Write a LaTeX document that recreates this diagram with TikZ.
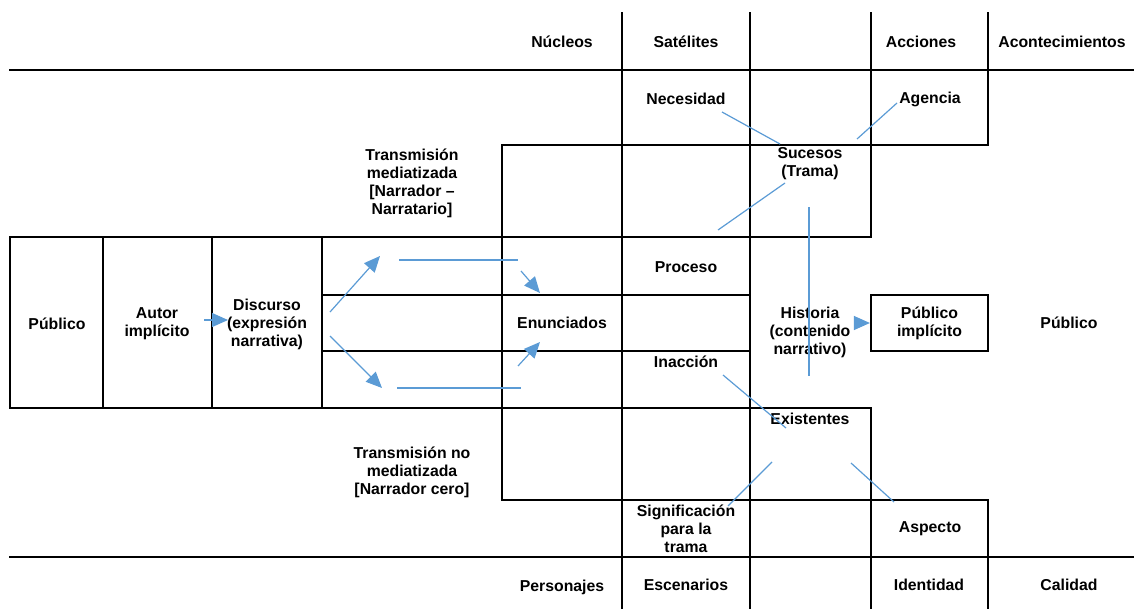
\documentclass[tikz,border=0pt]{standalone}
\usepackage{fontspec}
\setmainfont{Liberation Sans}
\usetikzlibrary{arrows.meta}
\definecolor{lineblue}{RGB}{91,155,213}
\begin{document}
\begin{tikzpicture}[x=1pt,y=-1pt,
  grid/.style={line width=2.2pt, line cap=rect},
  lbl/.style={font=\bfseries\fontsize{15.8}{18}\selectfont, align=center, inner sep=0pt},
  conn/.style={draw=lineblue, line width=1.2pt},
  arr/.style={conn, -{Triangle[length=16pt,width=14pt]}}]
\useasboundingbox (0,0) rectangle (1134,608);
% grid lines
\draw[grid] (10,70) -- (1134,70);
\draw[grid] (10,557) -- (1134,557);
\draw[grid] (502,145) -- (988,145);
\draw[grid] (10,237) -- (871,237);
\draw[grid] (322,295) -- (750,295);
\draw[grid] (322,351) -- (750,351);
\draw[grid] (10,408) -- (871,408);
\draw[grid] (502,500) -- (988,500);
\draw[grid] (622,13) -- (622,608);
\draw[grid] (750,13) -- (750,608);
\draw[grid] (871,13) -- (871,237);
\draw[grid] (871,408) -- (871,608);
\draw[grid] (988,13) -- (988,145);
\draw[grid] (988,500) -- (988,608);
\draw[grid] (10,237) -- (10,408);
\draw[grid] (103,237) -- (103,408);
\draw[grid] (212,237) -- (212,408);
\draw[grid] (322,237) -- (322,408);
\draw[grid] (502,145) -- (502,500);
% labels
\node[lbl] (nuc) at (562,42) {Núcleos};
\node[lbl] (sat) at (686,42) {Satélites};
\node[lbl] (acc) at (921,42) {Acciones};
\node[lbl] (acon) at (1062,42) {Acontecimientos};
\node[lbl] (nec) at (686,99) {Necesidad};
\node[lbl] (age) at (930,99) {Agencia};
\node[lbl] (suc) at (810,164) {Sucesos\\(Trama)};
\node[lbl] (tm) at (412,183) {Transmisión\\mediatizada\\{[}Narrador –\\Narratario{]}};
\node[lbl] (pub) at (57,324) {Público};
\node[lbl] (aut) at (157,324) {Autor\\implícito};
\node[lbl] (dis) at (267,324) {Discurso\\(expresión\\narrativa)};
\node[lbl] (enu) at (562,323) {Enunciados};
\node[lbl] (pro) at (686,267) {Proceso};
\node[lbl] (ina) at (686,362) {Inacción};
\node[lbl] (his) at (810,332) {Historia\\(contenido\\narrativo)};
\node[lbl, draw, line width=2.2pt, minimum width=117pt, minimum height=56pt] (pubimp) at (929.5,323) {Público\\implícito};
\node[lbl] (pubr) at (1069,323) {Público};
\node[lbl] (exi) at (810,419) {Existentes};
\node[lbl] (tnm) at (412,472) {Transmisión no\\mediatizada\\{[}Narrador cero{]}};
\node[lbl] (sig) at (686,529) {Significación\\para la\\trama};
\node[lbl] (asp) at (930,529) {Aspecto};
\node[lbl] (per) at (562,587) {Personajes};
\node[lbl] (esc) at (686,585) {Escenarios};
\node[lbl] (ide) at (929,585) {Identidad};
\node[lbl] (cal) at (1069,585) {Calidad};
% connector end points
\coordinate (c1a) at (722,112); \coordinate (c1b) at (780,144);
\coordinate (c2a) at (897,103); \coordinate (c2b) at (857,139);
\coordinate (c3a) at (785,183); \coordinate (c3b) at (718,230);
\coordinate (c4a) at (809,207); \coordinate (c4b) at (809,376);
\coordinate (c5a) at (723,375); \coordinate (c5b) at (786,428);
\coordinate (c6a) at (772,462); \coordinate (c6b) at (728,506);
\coordinate (c7a) at (851,463); \coordinate (c7b) at (894,502);
\coordinate (a1a) at (204,320); \coordinate (a1b) at (228,320);
\coordinate (a2a) at (330,312); \coordinate (a2b) at (380,256);
\coordinate (l1a) at (399,260); \coordinate (l1b) at (518,260);
\coordinate (a3a) at (521,271); \coordinate (a3b) at (540,293);
\coordinate (a4a) at (330,336); \coordinate (a4b) at (382,388);
\coordinate (l2a) at (397,388); \coordinate (l2b) at (521,388);
\coordinate (a5a) at (518,366); \coordinate (a5b) at (540,342);
\coordinate (a6a) at (857,323); \coordinate (a6b) at (pubimp.west);
% connectors
\draw[conn] (c1a) -- (c1b);
\draw[conn] (c2a) -- (c2b);
\draw[conn] (c3a) -- (c3b);
\draw[conn] (c4a) -- (c4b);
\draw[conn] (c5a) -- (c5b);
\draw[conn] (c6a) -- (c6b);
\draw[conn] (c7a) -- (c7b);
\draw[conn] (l1a) -- (l1b);
\draw[conn] (l2a) -- (l2b);
\draw[arr] (a1a) -- (a1b);
\draw[arr] (a2a) -- (a2b);
\draw[arr] (a3a) -- (a3b);
\draw[arr] (a4a) -- (a4b);
\draw[arr] (a5a) -- (a5b);
\draw[arr] (a6a) -- (a6b);
\end{tikzpicture}
\end{document}
